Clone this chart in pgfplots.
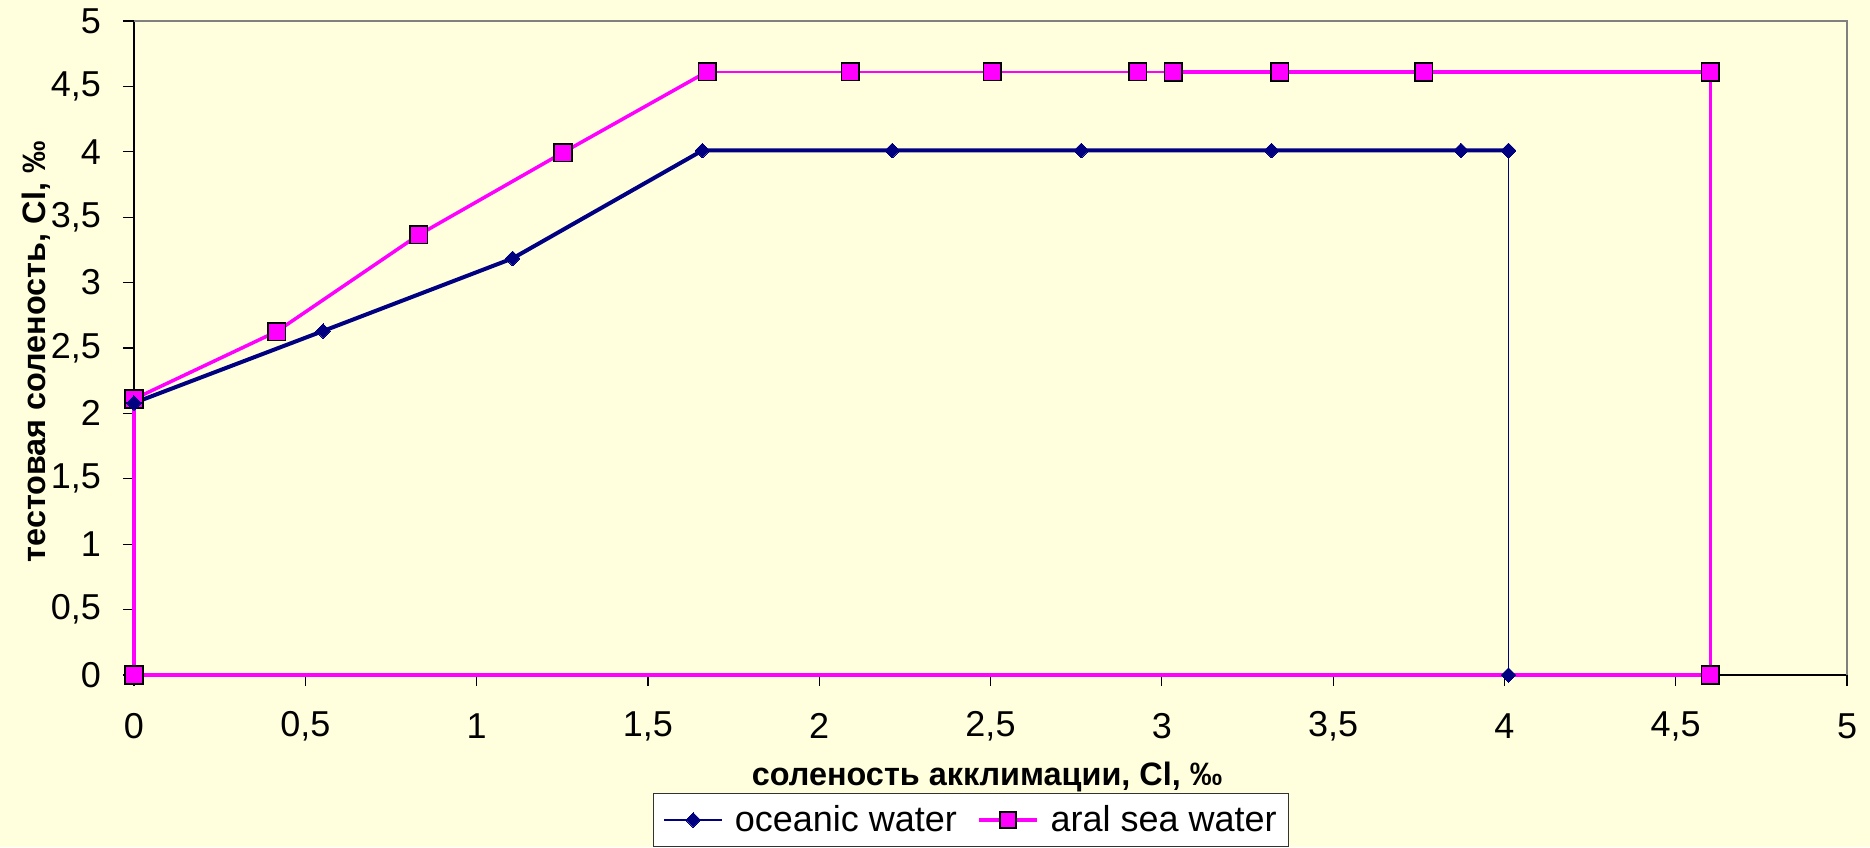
\documentclass[border=0pt]{standalone}
\usepackage{pgfplots}
\pgfplotsset{compat=1.18}
\usepackage{fontspec}
\setmainfont{Liberation Sans}
\definecolor{bg}{HTML}{FFFFDD}
\definecolor{navy}{HTML}{000080}
\definecolor{mag}{HTML}{FF00FF}
\begin{document}
\begin{tikzpicture}
\fill[bg] (-67pt,-86pt) rectangle (868pt,337.5pt);
\begin{axis}[
  at={(0,0)}, anchor=south west,
  scale only axis, width=856.5pt, height=327pt,
  xmin=0, xmax=5, ymin=0, ymax=5,
  xtick distance=0.5, ytick distance=0.5,
  /pgf/number format/use comma,
  /pgf/number format/assume math mode=true,
  tick label style={font=\fontsize{18}{21}\selectfont},
  axis x line*=bottom, axis y line*=left,
  axis line style={-, black, line width=0.6pt},
  tick align=outside, major tick length=5.5pt,
  tick style={black, line width=0.6pt},
  xticklabel style={anchor=center, yshift=-20pt},
  yticklabel style={anchor=east, xshift=-7.5pt},
  xlabel={соленость акклимации, Cl, ‰},
  ylabel={тестовая соленость, Cl, ‰},
  label style={font=\fontsize{16.2}{19}\selectfont\bfseries},
  xlabel style={at={(axis description cs:0.498,-0.156)}, anchor=center},
  ylabel style={at={(axis description cs:-0.0572,0.494)}, anchor=center, rotate=0},
  clip=false,
  legend columns=2,
  legend style={at={(axis description cs:0.303,-0.1804)}, anchor=north west,
    draw=black!80, fill=white, font=\fontsize{18}{21}\selectfont,
    inner sep=5pt, nodes={inner sep=1pt},
    /tikz/every odd column/.append style={column sep=5pt},
    /tikz/every even column/.append style={column sep=9pt}},
  legend image code/.code={
    \draw[mark repeat=2,mark phase=2,#1] plot coordinates {(0pt,0pt) (14.5pt,0pt) (29pt,0pt)};},
]
% aral sea water
\addplot[forget plot, mag, line width=1.75pt, mark=square*, mark size=4.4pt,
  mark options={fill=mag, draw=black, line width=0.8pt}] coordinates {
  (0,2.11) (0.4165,2.626) (0.831,3.365) (1.252,3.994) (1.673,4.613)
};
\addplot[forget plot, mag, line width=1pt, mark=square*, mark size=4.4pt,
  mark options={fill=mag, draw=black, line width=0.8pt}] coordinates {
  (1.673,4.613) (2.091,4.613) (2.505,4.613) (2.93,4.613) (3.034,4.613)
};
\addplot[forget plot, mag, line width=1.75pt, mark=square*, mark size=4.4pt,
  mark options={fill=mag, draw=black, line width=0.8pt}] coordinates {
  (3.034,4.61) (3.344,4.61) (3.765,4.61) (4.601,4.61) (4.601,0) (0,0) (0,2.11)
};
% oceanic water
\addplot[forget plot, navy, line width=2pt, mark=square*, mark size=2.6pt,
  mark options={rotate=45, fill=navy, draw=navy, line width=0pt}] coordinates {
  (0,2.08) (0.552,2.63) (1.105,3.185) (1.659,4.01) (2.213,4.01) (2.765,4.01)
  (3.32,4.01) (3.873,4.01) (4.012,4.01)
};
\addplot[forget plot, navy, line width=0.75pt, mark=square*, mark size=2.6pt,
  mark options={rotate=45, fill=navy, draw=navy, line width=0pt}] coordinates {
  (4.012,4.01) (4.012,0)
};
\draw[black!50, line width=0.6pt] (rel axis cs:0,1) -- (rel axis cs:1,1) -- (rel axis cs:1,0);
\addlegendimage{navy, line width=0.75pt, mark=square*, mark size=2.6pt,
  mark options={rotate=45, fill=navy, draw=navy, line width=0pt}}
\addlegendentry{oceanic water}
\addlegendimage{mag, line width=1.75pt, mark=square*, mark size=4pt,
  mark options={fill=mag, draw=black, line width=0.8pt}}
\addlegendentry{aral sea water}
\end{axis}
\pgfresetboundingbox
\useasboundingbox (-67pt,-86pt) rectangle (868pt,337.5pt);
\end{tikzpicture}
\end{document}
